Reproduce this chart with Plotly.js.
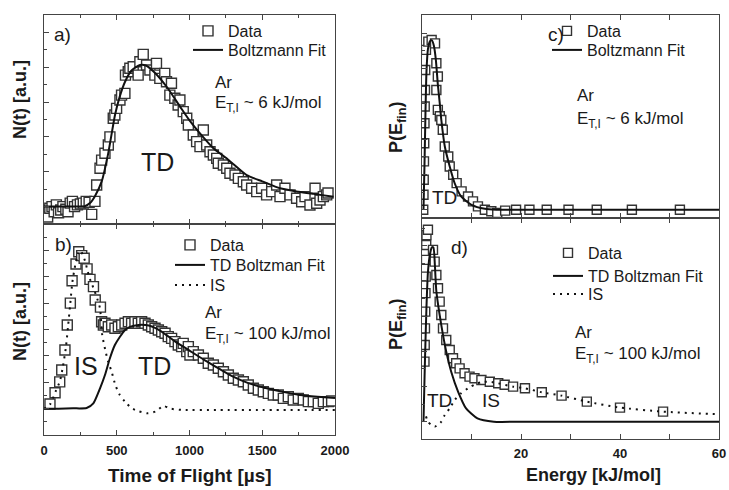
<!DOCTYPE html>
<html>
<head>
<meta charset="utf-8">
<script src="https://cdn.plot.ly/plotly-3.0.1.min.js"></script>
<style>html,body{margin:0;padding:0;background:#fff;}#chart{width:729px;height:490px;}</style>
</head>
<body>
<div id="chart"></div>
<script>
// ---------- Panel a: TOF, E ~ 6 kJ/mol ----------
const tofA_t = [25,40,55,70,85,100,115,130,150,165,180,195,210,230,250,270,290,310,328,350,362,385,396,419,442,453,476,487,499,522,533,556,560,579,590,613,647,659,682,705,728,762,773,796,830,842,865,876,899,922,934,957,981,992,1026,1049,1072,1095,1118,1141,1164,1187,1198,1233,1256,1278,1313,1336,1370,1393,1427,1462,1496,1530,1565,1599,1622,1656,1691,1736,1771,1794,1828,1863,1874,1897,1920,1943,1952];
const tofA_v = [-0.6,-0.1,0.0,-0.3,0.1,-0.35,-0.2,0.0,-0.15,-0.3,0.2,0.3,0.0,0.1,0.15,0.2,0.3,0.25,-0.45,0.3,1.24,2.2,2.67,3.06,3.54,4.0,5.07,5.26,5.64,6.12,6.4,6.5,7.55,7.74,7.94,8.03,7.55,8.32,8.74,8.13,7.84,7.55,8.22,7.36,7.65,7.17,6.4,7.08,6.22,5.83,6.12,5.45,5.07,4.68,4.11,3.73,3.44,4.4,3.54,3.15,2.96,2.77,2.49,2.39,2.2,1.91,1.81,1.62,1.43,1.24,1.05,0.86,1.05,0.67,0.86,1.24,0.57,1.05,0.67,0.48,0.28,0.57,0.09,1.05,0.19,0.38,0.57,0.67,0.78];
const fitA_t = [0,100,200,280,316,350,396,440,488,520,557,600,660,700,760,843,935,1000,1072,1164,1250,1300,1393,1500,1622,1750,1851,1990];
const fitA_v = [0,0,0,0.02,0.2,0.6,1.43,3.0,5.26,6.3,7.17,7.8,8.13,8.1,7.7,6.88,5.74,4.95,4.2,3.35,2.8,2.45,1.81,1.45,1.05,0.85,0.73,0.57];

// ---------- Panel b: TOF, E ~ 100 kJ/mol ----------
const tofB_t = [41,76,108,122,144,160,181,193,220,239,259,276,296,316,340,352,388,396,408,419,442,465,488,511,534,557,580,602,625,648,671,694,717,740,763,786,809,832,854,877,900,923,946,957,981,992,1003,1026,1061,1095,1129,1164,1198,1233,1267,1301,1336,1370,1404,1439,1473,1507,1542,1576,1610,1645,1679,1713,1748,1782,1817,1851,1885,1920,1954,1977];
const tofB_v = [0.35,1.2,2.03,2.93,4.45,6.34,8.0,9.7,10.97,11.9,11.6,11.4,10.6,9.8,9.25,8.24,7.7,6.59,6.34,6.47,6.21,6.34,6.09,6.21,6.34,6.47,6.59,6.47,6.59,6.47,6.59,6.47,6.34,6.21,6.09,5.96,5.83,5.71,5.46,5.33,5.08,4.82,4.7,4.95,4.32,4.7,4.07,4.32,4.07,3.82,3.44,3.31,3.06,2.8,2.55,2.3,2.17,2.04,1.79,1.54,1.41,1.28,1.16,1.03,1.03,0.78,0.9,0.65,0.78,0.65,0.53,0.53,0.4,0.53,0.53,0.58];
const fitB_t = [0,100,200,293,339,385,419,453,487,522,557,590,650,720,800,900,1000,1100,1200,1300,1400,1530,1650,1760,1880,2000];
const fitB_v = [0,0,0.02,0.05,0.4,1.54,2.55,3.82,4.82,5.45,5.96,6.2,6.35,6.3,5.9,5.1,4.4,3.7,3.05,2.42,1.95,1.54,1.25,1.03,0.9,0.8];
const isB_t = [0,40,80,110,130,150,165,180,195,215,235,250,265,285,300,320,345,370,385,400,420,440,465,490,520,555,600,650,715,770,820,870,950,1200,1500,2000];
const isB_v = [0,0.3,1.3,2.1,3.2,4.6,6.2,7.9,9.6,10.9,11.8,12.0,11.7,11.1,10.4,9.7,9.0,8.2,7.6,5.6,4.5,3.6,2.8,1.8,1.05,0.55,0.05,-0.2,-0.36,-0.2,0.2,0.0,-0.1,-0.1,-0.1,-0.1];

// ---------- Panel c: P(E), E ~ 6 kJ/mol ----------
const peC_e = [0.25,0.3,0.35,0.4,0.45,0.5,0.55,0.6,0.65,0.8,1.28,1.95,2.63,2.9,3.2,2.9,3.2,3.6,3.9,4.2,4.6,5.3,5.6,6.3,7.0,8.0,9.3,10.3,11.3,12.7,14.0,15.2,16.8,19.0,21.7,25.2,29.6,35.3,42.4,52.1];
const peC_v = [0.0,0.85,1.7,2.74,3.77,4.9,5.85,6.79,7.92,9.06,9.53,9.62,9.43,8.3,7.55,6.79,5.66,5.3,5.09,4.53,3.58,3.02,2.45,1.98,1.51,1.04,0.75,0.47,0.19,0.0,-0.09,-0.19,-0.05,0.0,0.0,0.0,0.0,0.0,0.0,0.0];
const fitC_e = [0.3,0.5,0.7,0.9,1.2,1.6,2.0,2.4,2.8,3.2,3.6,3.9,4.6,5.6,6.6,7.9,10,12.7,15,20,60];
const fitC_v = [0,2.5,5.5,7.8,9.1,9.55,9.6,9.3,8.5,7.1,6.0,5.1,3.6,2.45,1.5,0.75,0.28,0.05,0,0,0];

// ---------- Panel d: P(E), E ~ 100 kJ/mol ----------
const peD_e = [0.5,0.55,0.6,0.65,0.7,0.75,0.8,0.85,0.9,1.2,2.22,2.56,2.9,3.23,3.57,3.9,4.24,4.9,5.6,6.26,6.9,7.6,8.6,9.6,10.6,12.0,13.7,15.4,16.7,18.4,20.8,24.2,28.2,33.3,40.0,48.7];
const peD_v = [3.41,4.36,5.3,6.25,7.3,8.24,9.19,10.04,10.6,10.9,9.76,9.09,8.33,7.58,6.82,6.06,5.3,4.64,4.07,3.6,3.32,3.03,2.75,2.56,2.47,2.37,2.27,2.18,2.1,1.99,1.9,1.67,1.48,1.14,0.8,0.57];
const fitD_e = [0.3,0.6,0.9,1.2,1.6,2.0,2.3,2.6,2.9,3.9,4.9,5.9,7.3,8.9,11.2,14.5,20,60];
const fitD_v = [0,3.5,6.5,8.5,9.5,9.9,9.9,8.9,7.4,5.49,3.98,2.84,1.7,0.76,0.19,0,0,0];
const isD_e = [0.8,1.2,1.9,2.6,3.2,3.9,4.6,5.6,6.6,7.9,9.3,10.6,12.0,13.7,15.4,18.4,20.8,24.2,28.2,33.3,40.0,48.7,60];
const isD_v = [0.3,0.0,-0.19,-0.28,-0.19,0.0,0.38,0.76,1.23,1.61,1.9,2.1,2.25,2.27,2.18,1.99,1.9,1.67,1.48,1.14,0.8,0.57,0.42];

const tofTicks = [0,500,1000,1500,2000];
const eTicks = [20,40,60];

// ---------- layout helpers ----------
const W = 729, H = 490;
const fx = px => px / W;
const fy = py => 1 - py / H;
const FONT = 'Liberation Sans, Arial, Helvetica, sans-serif';
const INK = '#1a1a1a';
const AX = '#444';

const sq = (size) => ({symbol:'square', size:size, color:'white', line:{color:'#333', width:1.4}});
const solid = {color:'#111', width:2, shape:'spline', smoothing:0.6};
const dotted = {color:'#111', width:2, dash:'2px,5px', shape:'spline', smoothing:0.6};

const traces = [
  {x:tofA_t, y:tofA_v, xaxis:'x', yaxis:'y', mode:'markers', marker:sq(10), name:'Data', legend:'legend11'},
  {x:fitA_t, y:fitA_v, xaxis:'x', yaxis:'y', mode:'lines', line:solid, name:'Boltzmann Fit', legend:'legend2'},
  {x:tofB_t, y:tofB_v, xaxis:'x2', yaxis:'y2', mode:'markers', marker:sq(10), name:'Data', legend:'legend3'},
  {x:fitB_t, y:fitB_v, xaxis:'x2', yaxis:'y2', mode:'lines', line:solid, name:'TD Boltzman Fit', legend:'legend4'},
  {x:isB_t, y:isB_v, xaxis:'x2', yaxis:'y2', mode:'lines', line:dotted, name:'IS', legend:'legend5'},
  {x:peC_e, y:peC_v, xaxis:'x3', yaxis:'y3', mode:'markers', marker:sq(9), name:'Data', legend:'legend6'},
  {x:fitC_e, y:fitC_v, xaxis:'x3', yaxis:'y3', mode:'lines', line:solid, name:'Boltzmann Fit', legend:'legend7'},
  {x:peD_e, y:peD_v, xaxis:'x4', yaxis:'y4', mode:'markers', marker:sq(9), name:'Data', legend:'legend8'},
  {x:fitD_e, y:fitD_v, xaxis:'x4', yaxis:'y4', mode:'lines', line:solid, name:'TD Boltzman Fit', legend:'legend9'},
  {x:isD_e, y:isD_v, xaxis:'x4', yaxis:'y4', mode:'lines', line:dotted, name:'IS', legend:'legend10'}
];

const baseAxis = {showgrid:false, zeroline:false, showline:true, linecolor:AX, linewidth:1,
  ticks:'inside', tickcolor:AX, ticklen:5, tickwidth:1, fixedrange:true};
const tickFont = {family:FONT, size:13, color:INK, weight:'bold'};

function xAx(domain, range, labels, extra){
  return Object.assign({}, baseAxis, {domain:domain, range:range, mirror:'ticks',
    showticklabels:labels, tickfont:tickFont, ticklabelstandoff:3}, extra);
}
function yAx(domain, range, anchor){
  return Object.assign({}, baseAxis, {domain:domain, range:range, mirror:true, anchor:anchor,
    showticklabels:false, tickmode:'linear', tick0:0, dtick:2,
    minor:{ticks:'inside', ticklen:3, tickcolor:AX, dtick:1, tick0:0}});
}

const xL = [fx(44), fx(335)];
const xR = [fx(422), fx(719)];

// one legend per entry so each row sits where the reference puts it
const LEGSIZE = 16;
const legendBase = {bgcolor:'rgba(0,0,0,0)', borderwidth:0, xanchor:'left', yanchor:'top',
  font:{family:FONT, size:LEGSIZE, color:INK}, itemclick:false, itemdoubleclick:false};
function leg(textLeftPx, rowCenterPx){
  return Object.assign({}, legendBase, {x:fx(textLeftPx - 40), y:fy(rowCenterPx - 19)});
}

const ann = [];
function txt(text, px, py, opts){
  ann.push(Object.assign({text:text, x:fx(px), y:fy(py), xref:'paper', yref:'paper',
    showarrow:false, xanchor:'left', yanchor:'middle',
    font:{family:FONT, size:17, color:INK}}, opts||{}));
}
// panel letters
const letter = {family:FONT, size:19, color:INK};
txt('a)', 52, 35, {font:letter});
txt('b)', 53, 244, {font:letter});
txt('c)', 546, 35, {font:letter});
txt('d)', 449, 247, {font:letter});
// conditions
txt('Ar', 213, 82); txt('E<sub>T,I</sub> ~ 6 kJ/mol', 213, 104);
txt('Ar', 203, 312); txt('E<sub>T,I</sub> ~ 100 kJ/mol', 203, 335);
txt('Ar', 575, 95); txt('E<sub>T,I</sub> ~ 6 kJ/mol', 575, 120);
txt('Ar', 573, 332); txt('E<sub>T,I</sub> ~ 100 kJ/mol', 573, 355);
// channel labels
const big = {family:FONT, size:25, color:INK};
const mid = {family:FONT, size:19, color:INK};
txt('TD', 157, 162, {xanchor:'center', font:big});
txt('IS', 86, 366, {xanchor:'center', font:big});
txt('TD', 154, 366, {xanchor:'center', font:big});
txt('TD', 445, 198, {xanchor:'center', font:mid});
txt('TD', 439, 400, {xanchor:'center', font:mid});
txt('IS', 491, 400, {xanchor:'center', font:mid});
// axis titles
const yfont = {family:FONT, size:18, color:INK, weight:'bold'};
txt('N(t) [a.u.]', 20, 100, {xanchor:'center', textangle:-90, font:yfont});
txt('N(t) [a.u.]', 20, 322, {xanchor:'center', textangle:-90, font:yfont});
txt('P(E<sub>fin</sub>)', 397, 128, {xanchor:'center', textangle:-90, font:yfont});
txt('P(E<sub>fin</sub>)', 397, 325, {xanchor:'center', textangle:-90, font:yfont});
txt('Time of Flight [µs]', 190, 475, {xanchor:'center', font:{family:FONT, size:19, color:INK, weight:'bold'}});
txt('Energy [kJ/mol]', 593, 475, {xanchor:'center', font:{family:FONT, size:18, color:INK, weight:'bold'}});

const layout = {
  width:W, height:H, margin:{l:0, r:0, t:0, b:0},
  paper_bgcolor:'white', plot_bgcolor:'white',
  font:{family:FONT, color:INK},
  xaxis: xAx(xL, [0,2000], false, {anchor:'y', tickmode:'array', tickvals:tofTicks,
    minor:{ticks:'inside', ticklen:3, tickcolor:AX, dtick:250, tick0:0}}),
  yaxis: yAx([fy(224), fy(15)], [-1, 11], 'x'),
  xaxis2: xAx(xL, [0,2000], true, {anchor:'y2', tickmode:'array', tickvals:tofTicks,
    minor:{ticks:'inside', ticklen:3, tickcolor:AX, dtick:250, tick0:0}}),
  yaxis2: yAx([fy(435), fy(224)], [-2, 14], 'x2'),
  xaxis3: xAx(xR, [0,60], false, {anchor:'y3', tickmode:'linear', tick0:0, dtick:10}),
  yaxis3: yAx([fy(218), fy(15)], [-0.47, 11.04], 'x3'),
  xaxis4: xAx(xR, [0,60], true, {anchor:'y4', tickmode:'array', tickvals:eTicks,
    minor:{ticks:'inside', ticklen:5, tickcolor:AX, dtick:10, tick0:0}}),
  yaxis4: yAx([fy(438.5), fy(218)], [-0.955, 11.57], 'x4'),
  legend11: leg(228, 33),
  legend2:  leg(228, 52),
  legend3:  leg(210, 247),
  legend4:  leg(210, 267),
  legend5:  leg(210, 287),
  legend6:  leg(587, 33),
  legend7:  leg(587, 52),
  legend8:  leg(588, 255),
  legend9:  leg(588, 278),
  legend10: leg(588, 296),
  showlegend:true,
  annotations: ann
};

Plotly.newPlot('chart', traces, layout, {staticPlot:true, displayModeBar:false});
</script>
</body>
</html>
